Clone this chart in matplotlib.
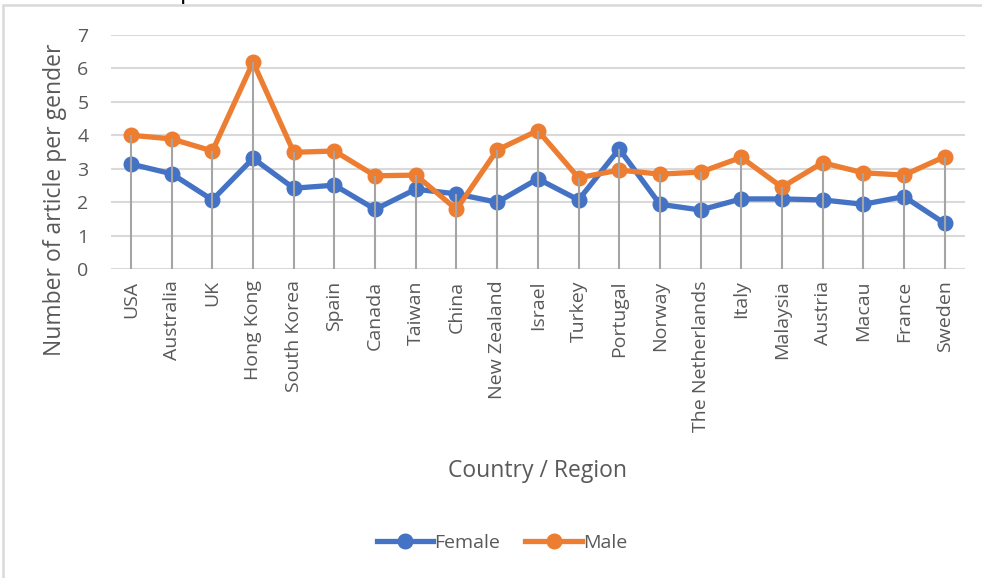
import matplotlib
matplotlib.use("Agg")
import matplotlib.pyplot as plt
from matplotlib.lines import Line2D
from matplotlib.patches import Rectangle
import numpy as np

plt.rcParams['font.family'] = ['Open Sans', 'DejaVu Sans']

countries = ["USA", "Australia", "UK", "Hong Kong", "South Korea", "Spain", "Canada",
             "Taiwan", "China", "New Zealand", "Israel", "Turkey", "Portugal", "Norway",
             "The Netherlands", "Italy", "Malaysia", "Austria", "Macau", "France", "Sweden"]
female = [3.14, 2.85, 2.07, 3.31, 2.42, 2.51, 1.79, 2.39, 2.25, 2.00, 2.70,
          2.07, 3.59, 1.94, 1.77, 2.10, 2.10, 2.07, 1.94, 2.17, 1.37]
male = [4.00, 3.89, 3.53, 6.18, 3.49, 3.53, 2.79, 2.81, 1.79, 3.56, 4.14,
        2.73, 2.96, 2.84, 2.90, 3.34, 2.45, 3.18, 2.88, 2.81, 3.36]
y_ticks = [0, 1, 2, 3, 4, 5, 6, 7]

BLUE = "#4472C4"
ORANGE = "#ED7D31"
TXT = "#595959"
GRID = "#D9D9D9"
DROP = "#A5A5A5"

W, H = 982, 578
fig = plt.figure(figsize=(W / 100, H / 100), dpi=100)
ax = fig.add_axes([110.7 / W, 1 - 269.3 / H, (965 - 110.7) / W, (269.3 - 34.7) / H])

x = np.arange(len(countries))
ax.plot(x, female, color=BLUE, lw=3.8, marker='o', ms=10.5, zorder=3, label="Female")
ax.plot(x, male, color=ORANGE, lw=3.8, marker='o', ms=10.5, zorder=3, label="Male")
tops = np.maximum(female, male)
ax.vlines(x, 0, tops, color=DROP, lw=1.5, zorder=4)

ax.set_xlim(-0.5, len(countries) - 0.5)
ax.set_ylim(0, 7)
ax.set_yticks(y_ticks)
ax.set_yticklabels([str(v) for v in y_ticks], fontsize=14, color=TXT)
ax.set_xticks(x)
ax.set_xticklabels(countries, rotation=90, fontsize=14, color=TXT)
ax.tick_params(axis='both', length=0)
ax.tick_params(axis='y', pad=16)
ax.tick_params(axis='x', pad=8)
for s in ax.spines.values():
    s.set_visible(False)
ax.grid(axis='y', color=GRID, lw=1.5, zorder=0)
ax.set_axisbelow(True)

fig.text(55 / W, 1 - 200 / H, "Number of article per gender", rotation=90,
         ha='center', va='center', fontsize=16.5, color=TXT)
fig.text(537 / W, 1 - 471 / H, "Country / Region", ha='center', va='center',
         fontsize=16.5, color=TXT)

handles = [Line2D([], [], color=BLUE, lw=3.8, marker='o', ms=10.5),
           Line2D([], [], color=ORANGE, lw=3.8, marker='o', ms=10.5)]
fig.legend(handles, ["Female", "Male"], loc='center', bbox_to_anchor=(502 / W, 1 - 543 / H),
           ncol=2, frameon=False, fontsize=14, labelcolor=TXT, handlelength=2.9,
           handletextpad=0.05, columnspacing=1.3)

fig.patches.append(Rectangle((3 / W, -0.1), 1.2, (H - 5) / H + 0.1, transform=fig.transFigure,
                             fill=False, edgecolor=GRID, lw=1.8))
fig.text(180 / W, 1 + 1.5 / H, "p", fontsize=18, color='black', va='baseline', ha='left')

fig.savefig("out.png", dpi=100)
